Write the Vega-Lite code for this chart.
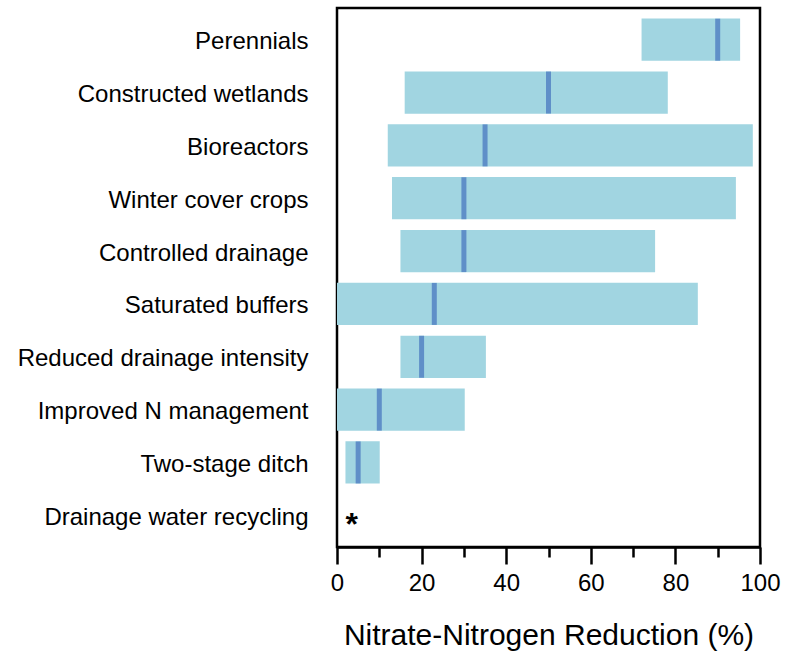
{
  "$schema": "https://vega.github.io/schema/vega-lite/v6.json",
  "width": 423,
  "height": 539,
  "autosize": {"type": "none"},
  "padding": {"left": 337, "top": 8, "right": 25, "bottom": 105},
  "background": "white",
  "config": {
    "view": {"stroke": "black", "strokeWidth": 2.5},
    "font": "Liberation Sans"
  },
  "data": {
    "values": [
      {"practice": "Perennials", "low": 72, "high": 95.3, "median": 90, "note": ""},
      {"practice": "Constructed wetlands", "low": 16, "high": 78.2, "median": 50, "note": ""},
      {"practice": "Bioreactors", "low": 12, "high": 98.3, "median": 35, "note": ""},
      {"practice": "Winter cover crops", "low": 13, "high": 94.3, "median": 30, "note": ""},
      {"practice": "Controlled drainage", "low": 15, "high": 75.2, "median": 30, "note": ""},
      {"practice": "Saturated buffers", "low": 0, "high": 85.3, "median": 23, "note": ""},
      {"practice": "Reduced drainage intensity", "low": 15, "high": 35.2, "median": 20, "note": ""},
      {"practice": "Improved N management", "low": 0, "high": 30.2, "median": 10, "note": ""},
      {"practice": "Two-stage ditch", "low": 2, "high": 10.1, "median": 5, "note": ""},
      {"practice": "Drainage water recycling", "low": null, "high": null, "median": null, "note": "*", "notex": 3.5}
    ]
  },
  "encoding": {
    "y": {
      "field": "practice",
      "type": "nominal",
      "sort": null,
      "scale": {"paddingInner": 0.2, "paddingOuter": 0.2},
      "axis": {
        "title": null,
        "domain": false,
        "ticks": false,
        "labelFontSize": 24,
        "labelColor": "black",
        "labelPadding": 29,
        "labelOffset": 2.5,
        "labelLimit": 400
      }
    }
  },
  "layer": [
    {
      "transform": [{"filter": "datum.low != null"}],
      "mark": {"type": "bar", "color": "#a1d5e1"},
      "encoding": {
        "x": {
          "field": "low",
          "type": "quantitative",
          "scale": {"domain": [0, 100], "nice": false},
          "axis": {
            "title": "Nitrate-Nitrogen Reduction (%)",
            "titleFontSize": 30,
            "titleFontWeight": "normal",
            "titleColor": "black",
            "titlePadding": 25,
            "values": [0, 10, 20, 30, 40, 50, 60, 70, 80, 90, 100],
            "labelExpr": "datum.value % 20 === 0 ? datum.label : ''",
            "tickSize": {"condition": {"test": "datum.value % 20 === 0", "value": 17}, "value": 10},
            "tickWidth": 2.5,
            "tickColor": "black",
            "domainColor": "black",
            "domainWidth": 2.5,
            "grid": false,
            "labelFontSize": 24,
            "labelColor": "black",
            "labelPadding": 7,
            "labelFlush": false
          }
        },
        "x2": {"field": "high"}
      }
    },
    {
      "transform": [{"filter": "datum.median != null"}],
      "mark": {"type": "tick", "orient": "vertical", "color": "#5f8fc8", "thickness": 5, "size": 42, "opacity": 1},
      "encoding": {
        "x": {"field": "median", "type": "quantitative"}
      }
    },
    {
      "transform": [{"filter": "datum.note != ''"}],
      "mark": {"type": "text", "fontSize": 32, "fontWeight": "bold", "color": "black", "baseline": "middle", "align": "center", "dy": 10},
      "encoding": {
        "x": {"field": "notex", "type": "quantitative"},
        "text": {"field": "note"}
      }
    }
  ]
}
